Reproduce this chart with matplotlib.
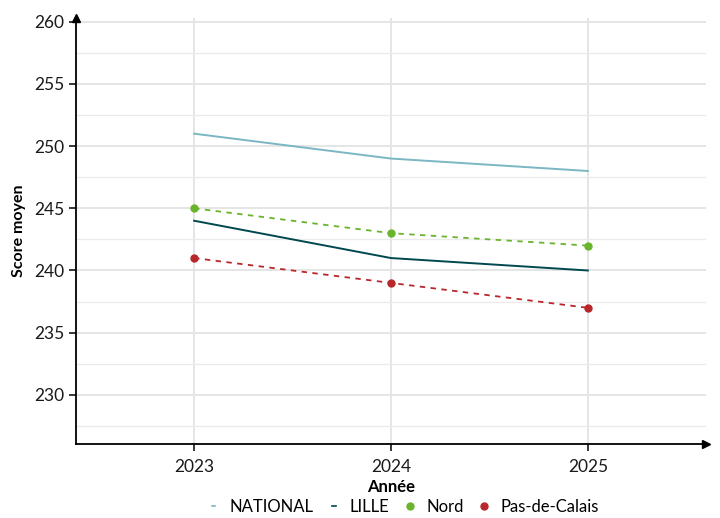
import matplotlib
matplotlib.use("Agg")
import matplotlib.pyplot as plt
from matplotlib.lines import Line2D

plt.rcParams['font.family'] = ['Lato', 'DejaVu Sans']

years = [2023, 2024, 2025]
national = [251, 249, 248]
lille = [244, 241, 240]
nord = [245, 243, 242]
pdc = [241, 239, 237]
yticks = [230, 235, 240, 245, 250, 255, 260]

c_nat = '#7ab7c3'
c_lille = '#00484f'
c_nord = '#6ab42d'
c_pdc = '#b8272c'

fig = plt.figure(figsize=(7.2, 5.18), dpi=100)
ax = fig.add_axes([76/720, 1-444/518, (706-76)/720, (444-18)/518])

ax.set_xlim(2022.4, 2025.6)
ax.set_ylim(226.05, 260.3)

ax.set_yticks(yticks)
ax.set_yticks([227.5, 232.5, 237.5, 242.5, 247.5, 252.5, 257.5], minor=True)
ax.set_xticks(years)
ax.set_xticklabels([str(y) for y in years])
ax.grid(True, which='major', color='#e3e3e3', lw=1.3)
ax.grid(True, which='minor', axis='y', color='#ebebeb', lw=1.0)
ax.set_axisbelow(True)

ax.plot(years, national, color=c_nat, lw=1.4)
ax.plot(years, lille, color=c_lille, lw=1.4)
ax.plot(years, nord, color=c_nord, lw=1.3, ls=(0, (3, 3)), marker='o', ms=5)
ax.plot(years, pdc, color=c_pdc, lw=1.3, ls=(0, (3, 3)), marker='o', ms=5)

for s in ['top', 'right']:
    ax.spines[s].set_visible(False)
for s in ['left', 'bottom']:
    ax.spines[s].set_color('black')
    ax.spines[s].set_linewidth(1.3)

ax.plot(1, 0, '>k', ms=6, transform=ax.transAxes, clip_on=False)
ax.plot(0, 1, '^k', ms=6, transform=ax.transAxes, clip_on=False)

ax.tick_params(axis='both', which='major', length=5, width=1.1, color='black',
               labelsize=12.5, labelcolor='#1a1a1a', direction='out')
ax.tick_params(axis='x', which='major', pad=6)
ax.tick_params(axis='both', which='minor', length=0)

ax.set_ylabel('Score moyen', fontsize=11.5, fontweight='bold', labelpad=6)
ax.set_xlabel('Année', fontsize=12, fontweight='bold', labelpad=3)

handles = [
    Line2D([0], [0], color=c_nat, lw=1.2),
    Line2D([0], [0], color=c_lille, lw=1.2),
    Line2D([0], [0], color=c_nord, lw=0, marker='o', ms=5),
    Line2D([0], [0], color=c_pdc, lw=0, marker='o', ms=5),
]
labels = ['NATIONAL', 'LILLE', 'Nord', 'Pas-de-Calais']
fig.legend(handles, labels, loc='center', bbox_to_anchor=(405/720, 1-507/518),
           ncol=4, frameon=False, fontsize=12, handlelength=0.2,
           handletextpad=0.85, columnspacing=1.15, borderaxespad=0, borderpad=0)

fig.savefig('out.png', dpi=100)
